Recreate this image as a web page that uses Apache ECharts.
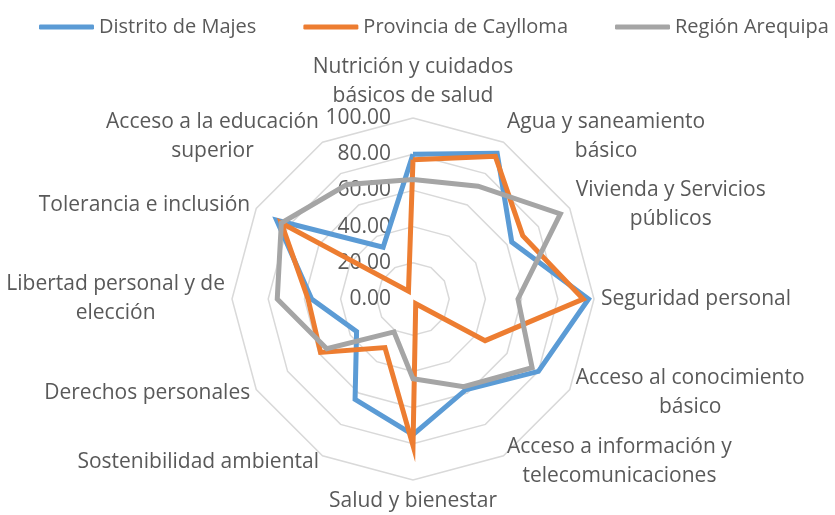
<!DOCTYPE html>
<html>
<head>
<meta charset="utf-8">
<script src="https://cdn.jsdelivr.net/npm/echarts@6/dist/echarts.min.js"></script>
<style>
  html, body { margin: 0; padding: 0; background: #fff; }
  #chart { width: 835px; height: 515px; }
</style>
</head>
<body>
<div id="chart"></div>
<script>
// ejes, en el orden de las agujas del reloj empezando arriba
const categories = [
  'Nutrición y cuidados\nbásicos de salud',
  'Agua y saneamiento\nbásico',
  'Vivienda y Servicios\npúblicos',
  'Seguridad personal',
  'Acceso al conocimiento\nbásico',
  'Acceso a información y\ntelecomunicaciones',
  'Salud y bienestar',
  'Sostenibilidad ambiental',
  'Derechos personales',
  'Libertad personal y de\nelección',
  'Tolerancia e inclusión',
  'Acceso a la educación\nsuperior'
]
const seriesNames = ['Distrito de Majes', 'Provincia de Caylloma', 'Región Arequipa']
const majes = [80, 93, 63, 97, 80, 58, 75, 64, 36, 56, 87, 33]
const caylloma = [77, 91, 70, 94, 46, 3, 81, 31, 59, 58, 84, 5]
const arequipa = [66, 72, 94, 58, 76, 56, 44, 21, 55, 75, 84, 73]
const colors = ['#5B9BD5', '#ED7D31', '#A5A5A5']

const textColor = '#595959'
const font = 'Open Sans'

// echarts dibuja los ejes en sentido antihorario: invertir el orden
const n = categories.length
const order = categories.map((_, i) => (i === 0 ? 0 : n - i))
const reorder = arr => order.map(k => arr[k])

const chart = echarts.init(document.getElementById('chart'))
const option = {
  color: colors,
  textStyle: { fontFamily: font, color: textColor },
  legend: {
    top: 12,
    left: 34,
    width: 801,
    itemWidth: 55,
    itemHeight: 5,
    itemGap: 47,
    icon: 'roundRect',
    textStyle: { fontFamily: font, fontSize: 20, color: textColor },
    data: seriesNames
  },
  radar: {
    center: [413, 299],
    radius: 181,
    shape: 'polygon',
    splitNumber: 5,
    nameGap: 7,
    axisName: {
      formatter: name => name.split('\n').map(s => '{c|' + s + '}').join('\n'),
      rich: {
        c: { align: 'center', fontFamily: font, fontSize: 21, lineHeight: 29, color: textColor }
      }
    },
    axisLine: { show: false },
    axisTick: { show: false },
    axisLabel: { show: false },
    splitArea: { show: false },
    splitLine: { lineStyle: { color: '#D9D9D9', width: 1.5 } },
    indicator: order.map((k, j) => {
      const ind = { name: categories[k], min: 0, max: 100 }
      if (j === 0) {
        ind.axisLabel = {
          show: true,
          margin: 22,
          fontFamily: font,
          fontSize: 21,
          color: textColor,
          formatter: v => Number(v).toFixed(2)
        }
      }
      return ind
    })
  },
  series: [majes, caylloma, arequipa].map((vals, i) => ({
    name: seriesNames[i],
    type: 'radar',
    symbol: 'none',
    lineStyle: { width: 5, color: colors[i], join: 'miter' },
    itemStyle: { color: colors[i] },
    data: [{ name: seriesNames[i], value: reorder(vals) }]
  }))
}
chart.setOption(option)
</script>
</body>
</html>
